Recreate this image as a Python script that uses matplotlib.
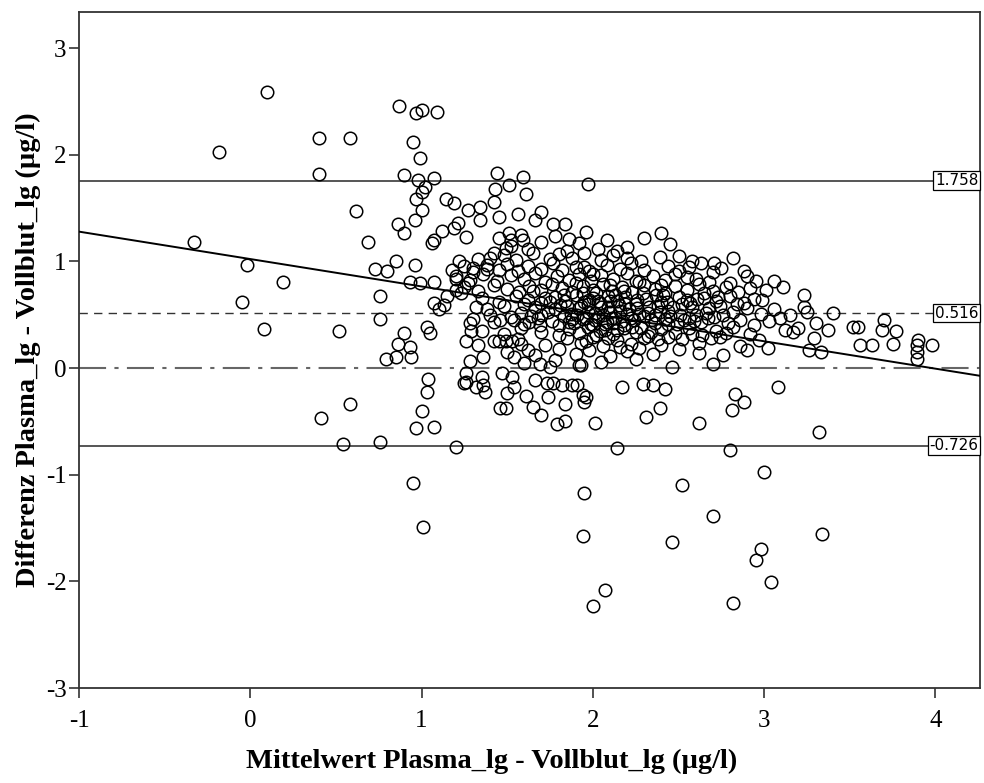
import matplotlib
matplotlib.use("Agg")
import matplotlib.pyplot as plt
import matplotlib.transforms as mtransforms
import numpy as np

# Bland-Altman: mean vs. difference of log values (Plasma_lg, Vollblut_lg)
sparse_points = [
    (-0.33, 1.18), (-0.18, 2.03), (0.10, 2.59), (-0.02, 0.97), (-0.05, 0.62), (0.08, 0.37),
    (0.19, 0.81), (0.40, 2.16), (0.40, 1.82), (0.58, 2.16), (0.62, 1.47), (0.52, 0.35),
    (0.41, -0.47), (0.58, -0.34), (0.54, -0.71), (0.76, -0.69), (0.69, 1.18), (0.73, 0.93),
    (0.80, 0.91), (0.85, 1.00), (0.96, 0.97), (0.76, 0.68), (0.76, 0.46), (0.90, 0.33),
    (0.86, 0.23), (0.93, 0.20), (0.79, 0.09), (0.85, 0.10), (0.94, 0.10), (1.03, 0.39),
    (1.05, 0.33), (1.04, -0.10), (1.03, -0.22), (1.00, -0.40), (0.97, -0.56), (1.07, -0.55),
    (0.95, -1.08), (1.01, -1.49), (1.20, -0.74), (0.87, 2.46), (0.97, 2.39), (1.00, 2.42),
    (1.09, 2.40), (0.95, 2.12), (0.99, 1.97), (0.90, 1.81), (0.98, 1.76), (1.07, 1.78),
    (0.97, 1.59), (1.00, 1.48), (1.02, 1.70), (1.00, 1.65), (0.86, 1.35), (0.90, 1.27),
    (0.96, 1.39), (1.07, 1.20), (1.06, 1.17), (0.93, 0.81), (0.99, 0.80), (1.07, 0.81),
    (1.07, 0.61), (1.10, 0.55), (1.13, 0.59),
]

upper_points = [
    (1.14, 1.59), (1.19, 1.55), (1.27, 1.48), (1.34, 1.51), (1.34, 1.39), (1.44, 1.83),
    (1.43, 1.68), (1.51, 1.72), (1.59, 1.79), (1.61, 1.63), (1.42, 1.56), (1.45, 1.42),
    (1.56, 1.45), (1.66, 1.39), (1.70, 1.46), (1.77, 1.35), (1.84, 1.35), (1.86, 1.21),
    (1.12, 1.29), (1.21, 1.36), (1.19, 1.31), (1.26, 1.23), (1.51, 1.27), (1.52, 1.20),
    (1.59, 1.20), (1.42, 1.08), (1.49, 1.13), (1.97, 1.73), (1.96, 1.28), (2.40, 1.27),
    (2.45, 1.16), (2.39, 1.04), (2.14, 1.10), (2.63, 0.99), (2.71, 0.99), (2.82, 1.03),
    (2.80, 0.80), (2.70, 0.90), (2.03, 1.12),
    (1.15, 0.68), (1.20, 0.73), (1.23, 0.70), (1.32, 0.57), (1.40, 0.50), (1.28, 0.42),
    (1.29, 0.35), (1.26, 0.25), (1.33, 0.22), (1.36, 0.10), (1.28, 0.07), (1.46, 0.45),
    (1.54, 0.45), (1.63, 0.43), (1.69, 0.40), (1.42, 0.25), (1.45, 0.25), (1.49, 0.25),
    (1.53, 0.25), (1.58, 0.23), (1.54, 0.10), (1.62, 0.17),
    (1.18, 0.92), (1.22, 1.00), (1.25, 0.96), (1.30, 0.90), (1.33, 1.02), (1.38, 0.93),
    (1.20, 0.84), (1.27, 0.80),
]

core_points = [
    (1.45, 1.22), (1.52, 1.15), (1.58, 1.25), (1.62, 1.12), (1.70, 1.18), (1.78, 1.24),
    (1.85, 1.10), (1.92, 1.17), (2.08, 1.20), (2.20, 1.14), (2.30, 1.22),
    (1.40, 1.03), (1.48, 1.06), (1.55, 1.01), (1.65, 1.08), (1.75, 1.02), (1.80, 1.07),
    (1.88, 1.03), (1.95, 1.08), (2.05, 1.01), (2.12, 1.06), (2.20, 1.03), (2.28, 1.00),
    (2.50, 1.05), (2.58, 1.00),
    (1.30, 0.94), (1.38, 0.97), (1.45, 0.92), (1.50, 0.98), (1.56, 0.91), (1.62, 0.96),
    (1.70, 0.93), (1.77, 0.99), (1.82, 0.92), (1.90, 0.95), (1.98, 0.91), (2.08, 0.97),
    (2.16, 0.93), (2.22, 0.99), (2.30, 0.92), (2.44, 0.96), (2.50, 0.91), (2.56, 0.95),
    (2.75, 0.94), (2.88, 0.91),
    (1.20, 0.86), (1.28, 0.83), (1.36, 0.88), (1.44, 0.82), (1.52, 0.87), (1.60, 0.84),
    (1.66, 0.89), (1.72, 0.81), (1.79, 0.86), (1.86, 0.83), (1.92, 0.88), (1.99, 0.82),
    (2.05, 0.87), (2.12, 0.84), (2.20, 0.89), (2.27, 0.81), (2.35, 0.86), (2.42, 0.83),
    (2.48, 0.88), (2.60, 0.84), (2.68, 0.81), (2.90, 0.86), (2.95, 0.82),
    (1.25, 0.76), (1.33, 0.72), (1.42, 0.78), (1.50, 0.74), (1.57, 0.71), (1.63, 0.77),
    (1.70, 0.73), (1.76, 0.79), (1.82, 0.75), (1.88, 0.71), (1.94, 0.77), (2.00, 0.73),
    (2.06, 0.79), (2.11, 0.72), (2.17, 0.76), (2.23, 0.71), (2.30, 0.78), (2.36, 0.74),
    (2.42, 0.70), (2.48, 0.77), (2.55, 0.73), (2.62, 0.79), (2.70, 0.72), (2.78, 0.76),
    (2.85, 0.71), (2.92, 0.75),
    (1.35, 0.66), (1.45, 0.62), (1.55, 0.68), (1.62, 0.64), (1.70, 0.61), (1.78, 0.67),
    (1.84, 0.63), (1.90, 0.69), (1.95, 0.62), (2.00, 0.66), (2.04, 0.61), (2.09, 0.68),
    (2.14, 0.63), (2.19, 0.67), (2.25, 0.60), (2.31, 0.65), (2.37, 0.69), (2.43, 0.62),
    (2.50, 0.67), (2.57, 0.61), (2.65, 0.66), (2.72, 0.63), (2.80, 0.68), (2.88, 0.61),
    (2.94, 0.65),
    (1.38, 0.55), (1.48, 0.58), (1.58, 0.52), (1.66, 0.57), (1.74, 0.53), (1.81, 0.59),
    (1.87, 0.51), (1.92, 0.56), (1.97, 0.60), (2.01, 0.52), (2.05, 0.57), (2.10, 0.53),
    (2.15, 0.59), (2.20, 0.51), (2.26, 0.56), (2.32, 0.52), (2.38, 0.58), (2.44, 0.54),
    (2.51, 0.50), (2.58, 0.57), (2.66, 0.52), (2.74, 0.58), (2.82, 0.53), (2.90, 0.56),
    (2.98, 0.51), (3.06, 0.55), (3.15, 0.50),
    (1.30, 0.46), (1.42, 0.43), (1.52, 0.48), (1.60, 0.41), (1.68, 0.47), (1.76, 0.44),
    (1.83, 0.49), (1.89, 0.42), (1.94, 0.46), (1.99, 0.41), (2.03, 0.48), (2.08, 0.43),
    (2.13, 0.47), (2.18, 0.40), (2.24, 0.45), (2.30, 0.49), (2.36, 0.42), (2.42, 0.46),
    (2.49, 0.41), (2.56, 0.47), (2.63, 0.43), (2.71, 0.48), (2.79, 0.42), (2.86, 0.45),
    (2.94, 0.40), (3.03, 0.44),
    (1.35, 0.35), (1.48, 0.32), (1.58, 0.38), (1.70, 0.34), (1.80, 0.31), (1.86, 0.37),
    (1.92, 0.33), (1.97, 0.39), (2.02, 0.31), (2.07, 0.36), (2.12, 0.32), (2.18, 0.38),
    (2.25, 0.34), (2.32, 0.30), (2.40, 0.37), (2.48, 0.33), (2.56, 0.38), (2.64, 0.31),
    (2.72, 0.35), (2.82, 0.39), (2.92, 0.32), (3.20, 0.38),
    (1.56, 0.27), (1.72, 0.22), (1.85, 0.28), (1.93, 0.24), (2.00, 0.29), (2.06, 0.21),
    (2.14, 0.26), (2.22, 0.23), (2.30, 0.28), (2.40, 0.22), (2.52, 0.27), (2.62, 0.24),
    (2.74, 0.29), (2.86, 0.21), (2.97, 0.26),
    (1.50, 0.15), (1.66, 0.12), (1.80, 0.18), (1.90, 0.13), (1.98, 0.17), (2.10, 0.11),
    (2.20, 0.16), (2.35, 0.13), (2.50, 0.18), (2.62, 0.14), (2.76, 0.12), (2.90, 0.17),
    (1.60, 0.05), (1.78, 0.08), (1.92, 0.03), (2.05, 0.06), (2.25, 0.09), (2.70, 0.04),
    (1.93, 0.58), (1.96, 0.47), (2.00, 0.40), (2.02, 0.70), (2.06, 0.50), (2.10, 0.63),
    (2.12, 0.42), (2.16, 0.54), (2.18, 0.72), (2.22, 0.47), (2.26, 0.64), (2.28, 0.38),
    (2.33, 0.57), (2.36, 0.50), (2.40, 0.62), (2.44, 0.41), (2.47, 0.57), (2.53, 0.45),
    (2.55, 0.64), (2.60, 0.50), (2.68, 0.56), (2.76, 0.50), (2.84, 0.60), (1.88, 0.46),
    (1.85, 0.58), (1.98, 0.64), (2.04, 0.35), (2.14, 0.36), (1.90, 0.80), (2.00, 0.88),
    (2.10, 0.78), (2.25, 0.82), (2.40, 0.78), (2.55, 0.85), (2.65, 0.70), (1.75, 0.62),
    (1.70, 0.50), (1.65, 0.72), (1.80, 0.40), (1.95, 0.95),
    (1.91, 0.50), (1.94, 0.70), (1.97, 0.53), (2.01, 0.45), (2.03, 0.63), (2.07, 0.41),
    (2.09, 0.57), (2.11, 0.47), (2.13, 0.69), (2.17, 0.44), (2.19, 0.60), (2.21, 0.55),
    (2.23, 0.39), (2.27, 0.51), (2.29, 0.70), (2.34, 0.45), (2.39, 0.53), (2.41, 0.69),
    (2.45, 0.49), (2.52, 0.60), (2.59, 0.44), (2.61, 0.65), (2.67, 0.47), (2.73, 0.67),
    (1.78, 0.55), (1.83, 0.69), (1.86, 0.43), (1.72, 0.66), (1.64, 0.49), (1.60, 0.60),
    (2.34, 0.34), (2.44, 0.29), (2.58, 0.32), (2.69, 0.28), (2.78, 0.33), (1.96, 0.25),
    (2.09, 0.28), (2.16, 0.20), (2.27, 0.19), (2.38, 0.27),
]

right_points = [
    (3.06, 0.82), (3.11, 0.76), (3.23, 0.69), (3.23, 0.57), (3.25, 0.53), (3.40, 0.52),
    (3.37, 0.36), (3.30, 0.42), (3.29, 0.28), (3.26, 0.17), (3.33, 0.15), (3.52, 0.39),
    (3.55, 0.39), (3.70, 0.45), (3.69, 0.36), (3.77, 0.35), (3.75, 0.23), (3.56, 0.22),
    (3.63, 0.22), (3.90, 0.26), (3.89, 0.22), (3.89, 0.15), (3.89, 0.09), (3.98, 0.22),
    (3.02, 0.19), (3.17, 0.34), (3.12, 0.36), (3.09, 0.47), (2.99, 0.64), (3.01, 0.73),
]

lower_points = [
    (1.26, -0.05), (1.26, -0.13), (1.35, -0.08), (1.32, -0.18), (1.37, -0.22), (1.36, -0.16),
    (1.25, -0.14), (1.47, -0.05), (1.53, -0.08), (1.54, -0.18), (1.50, -0.23), (1.46, -0.37),
    (1.49, -0.37), (1.61, -0.26), (1.65, -0.36), (1.70, -0.44), (1.66, -0.11), (1.73, -0.14),
    (1.74, -0.27), (1.79, -0.52), (1.84, -0.50), (1.84, -0.34), (1.82, -0.16), (1.88, -0.16),
    (1.77, -0.14), (1.69, 0.04), (1.75, 0.01), (1.95, -0.32), (1.96, -0.27), (2.01, -0.51),
    (2.17, -0.18), (2.31, -0.46), (2.39, -0.37), (2.42, -0.20), (2.29, -0.15), (2.35, -0.16),
    (2.62, -0.51), (2.83, -0.24), (2.88, -0.32), (2.81, -0.39), (3.08, -0.18), (3.32, -0.60),
    (2.46, 0.01), (1.93, 0.03), (1.91, -0.16), (1.94, -0.25),
    (2.14, -0.75), (2.80, -0.77), (3.00, -0.97), (2.52, -1.10), (1.95, -1.17), (2.70, -1.39),
    (1.94, -1.57), (2.46, -1.63), (3.34, -1.56), (2.98, -1.70), (2.95, -1.80), (3.04, -2.01),
    (2.07, -2.08), (2.00, -2.23), (2.82, -2.20),
]

mean_diff = 0.516
upper_loa = 1.758
lower_loa = -0.726
reg_intercept = 1.023
reg_slope = -0.257

x_ticks = [-1, 0, 1, 2, 3, 4]
y_ticks = [-3, -2, -1, 0, 1, 2, 3]

all_points = sparse_points + upper_points + core_points + right_points + lower_points
xs = np.array([p[0] for p in all_points])
ys = np.array([p[1] for p in all_points])

fig = plt.figure(figsize=(9.84, 7.83), dpi=100)
ax = fig.add_axes([0.0803, 0.1213, 0.9156, 0.8634])

ax.plot(xs, ys, 'o', ms=9.0, mfc='none', mec='black', mew=1.1, zorder=3)

ax.axhline(upper_loa, color='#555555', lw=1.4, zorder=2)
ax.axhline(lower_loa, color='#555555', lw=1.4, zorder=2)
ax.axhline(mean_diff, color='#333333', lw=1.0, ls=(0, (6, 4.5)), zorder=2)
ax.axhline(0, color='#666666', lw=1.5, ls=(0, (13, 4, 2, 4)), zorder=2)

xl = np.array([-1, 4.26])
ax.plot(xl, reg_intercept + reg_slope * xl, color='black', lw=1.4, zorder=4)

trans = mtransforms.blended_transform_factory(ax.transAxes, ax.transData)
for v in [upper_loa, mean_diff, lower_loa]:
    ax.text(0.9985, v, f'{v:.3f}', transform=trans, ha='right', va='center',
            fontsize=11, family='DejaVu Sans', zorder=6,
            bbox=dict(boxstyle='square,pad=0.12', fc='white', ec='black', lw=0.9))

ax.set_xlim(-1, 4.26)
ax.set_ylim(-3, 3.34)
ax.set_xticks(x_ticks)
ax.set_yticks(y_ticks)
ax.set_xticklabels([str(t) for t in x_ticks], family='Liberation Serif', fontsize=18)
ax.set_yticklabels([str(t) for t in y_ticks], family='Liberation Serif', fontsize=18)
ax.tick_params(direction='out', length=7, width=1.2, color='#333333', pad=2)
ax.tick_params(axis='x', pad=9)
for s in ax.spines.values():
    s.set_linewidth(1.3)
    s.set_color('#333333')

ax.set_xlabel('Mittelwert Plasma_lg - Vollblut_lg (µg/l)', family='Liberation Serif',
              fontweight='bold', fontsize=20.5)
ax.set_ylabel('Differenz Plasma_lg - Vollblut_lg (µg/l)', family='Liberation Serif',
              fontweight='bold', fontsize=20.5)
ax.xaxis.set_label_coords(0.458, -0.09)
ax.yaxis.set_label_coords(-0.0425, 0.5)

fig.savefig('out.png', dpi=100)
